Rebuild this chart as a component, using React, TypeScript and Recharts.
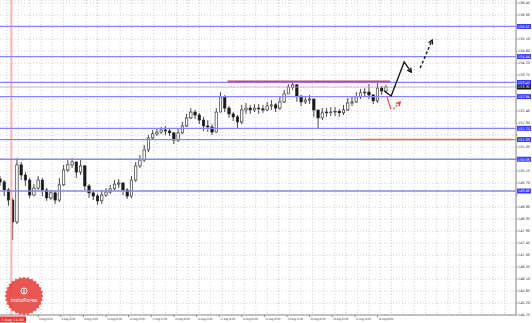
import React from "react";
import {
  ComposedChart,
  Bar,
  Line,
  XAxis,
  YAxis,
  CartesianGrid,
  ReferenceLine,
} from "recharts";

// 3-hour candles (price)
const closes = [
  149.74, 149.44, 149.06, 148.24, 150.38, 150.0, 149.81, 149.25, 149.51, 149.81,
  149.44, 149.14, 149.33, 149.06, 149.63, 150.19, 150.38, 150.49, 150.11, 150.34,
  149.59, 149.33, 149.21, 149.03, 149.25, 149.36, 149.48, 149.66, 149.7, 149.44,
  149.21, 149.81, 150.34, 150.56, 150.94, 151.39, 151.54, 151.61, 151.69, 151.65,
  151.58, 151.31, 151.58, 151.84, 152.14, 152.36, 152.25, 152.06, 151.84, 151.8,
  151.61, 152.36, 152.93, 152.51, 152.29, 152.18, 151.99, 152.44, 152.51, 152.44,
  152.51, 152.48, 152.44, 152.59, 152.63, 152.51, 152.74, 153.04, 153.3, 153.38,
  152.96, 152.74, 152.81, 152.85, 152.44, 152.14, 152.33, 152.36, 152.36, 152.39,
  152.33, 152.44, 152.7, 152.74, 152.93, 153.08, 153.11, 153.0, 152.78, 153.26,
  153.15, 153.3,
];
const highs = [
  149.96, 149.81, 149.51, 149.14, 150.64, 150.49, 150.11, 149.89, 149.66, 149.96,
  149.89, 149.51, 149.44, 149.4, 149.89, 150.38, 150.56, 150.64, 150.49, 150.56,
  150.38, 149.66, 149.44, 149.29, 149.44, 149.51, 149.63, 149.81, 149.85, 149.74,
  149.51, 149.96, 150.49, 150.75, 151.13, 151.5, 151.69, 151.76, 151.8, 151.84,
  151.76, 151.61, 151.76, 151.99, 152.29, 152.51, 152.44, 152.33, 152.18, 152.06,
  151.91, 152.51, 153.11, 153.0, 152.59, 152.36, 152.25, 152.63, 152.7, 152.63,
  152.66, 152.66, 152.63, 152.74, 152.81, 152.7, 152.93, 153.19, 153.41, 153.53,
  153.41, 153.0, 152.96, 153.0, 152.85, 152.44, 152.51, 152.51, 152.55, 152.55,
  152.48, 152.63, 152.89, 152.93, 153.11, 153.23, 153.26, 153.41, 153.04, 153.53,
  153.34, 153.38,
];
const lows = [
  149.59, 149.21, 148.84, 147.56, 148.16, 149.81, 149.59, 149.14, 149.21, 149.44,
  149.21, 149.03, 149.06, 148.91, 148.99, 149.59, 150.11, 150.26, 149.89, 150.0,
  149.44, 149.14, 149.06, 148.88, 148.91, 149.18, 149.29, 149.44, 149.51, 149.25,
  149.1, 149.14, 149.74, 150.26, 150.49, 150.86, 151.31, 151.46, 151.54, 151.5,
  151.46, 151.16, 151.24, 151.54, 151.8, 152.1, 152.1, 151.91, 151.65, 151.61,
  151.5, 151.58, 152.36, 152.36, 152.14, 152.03, 151.76, 151.91, 152.29, 152.29,
  152.36, 152.29, 152.33, 152.4, 152.44, 152.36, 152.44, 152.7, 153.04, 153.19,
  152.74, 152.59, 152.66, 152.66, 152.18, 151.76, 152.06, 152.18, 152.21, 152.21,
  152.18, 152.25, 152.4, 152.59, 152.7, 152.85, 152.96, 152.85, 152.66, 152.7,
  153.0, 153.08,
];
const firstOpen = 149.85;
const hoursPerCandle = 3;

const xTickHours = [27, 43, 59, 75, 91, 107, 123, 139, 155, 171, 187, 203, 219, 235, 251, 267];
const xTickLabels = [
  "8 Aug 06:00", "8 Aug 22:00", "9 Aug 14:00", "12 Aug 06:00", "12 Aug 22:00",
  "13 Aug 14:00", "14 Aug 06:00", "14 Aug 22:00", "15 Aug 14:00", "16 Aug 06:00",
  "16 Aug 22:00", "19 Aug 14:00", "20 Aug 06:00", "20 Aug 22:00", "21 Aug 14:00",
  "22 Aug 06:00",
];
const yTicks = [
  144.75, 145.2, 145.65, 146.1, 146.55, 147.0, 147.45, 147.9, 148.35, 148.8, 149.25,
  149.7, 150.15, 150.6, 151.05, 151.5, 151.95, 152.4, 152.85, 153.3, 153.75, 154.2,
  154.65, 155.1, 155.55, 156.0, 156.45,
];

const blueLevels = [155.57, 154.44, 153.47, 152.94, 151.75, 151.33, 150.59, 149.4];
const lastPrice = 153.3;
const resistance = { from: 161, to: 276, price: 153.51 };
const support = { from: 255, to: 362, price: 151.33 };
const markerHour = 8;
const markerLabel = "7 Aug 11:00";

// hand-drawn forecast arrows (hour, price)
const upMove = [
  { h: 271.8, p: 153.15 },
  { h: 276.7, p: 152.96 },
  { h: 285.9, p: 154.24 },
  { h: 290.9, p: 153.86 },
];
const upMoveNext = [
  { h: 297.2, p: 154.01 },
  { h: 305.7, p: 155.06 },
];
const dipMove = [
  { h: 273.7, p: 152.93 },
  { h: 276.5, p: 152.47 },
];
const dipBounce = [
  { h: 278.3, p: 152.47 },
  { h: 283.1, p: 152.74 },
];

const W = 532;
const H = 323;
const X_MAX = 365;
const Y_MIN = 144.75;
const Y_MAX = 156.5625;
const FONT = "DejaVu Sans";

const candles = closes.map((c, i) => ({
  h: i * hoursPerCandle,
  open: i === 0 ? firstOpen : closes[i - 1],
  close: c,
  high: highs[i],
  low: lows[i],
  range: [lows[i], highs[i]],
}));

const gridHours: number[] = [];
for (let h = 5; h <= X_MAX; h += 8) gridHours.push(h);

const taggedPrices = [...blueLevels, lastPrice];

function Candle(props: any) {
  const { x, y, width, height, payload } = props;
  const top = Math.min(y, y + height);
  const bottom = Math.max(y, y + height);
  const span = payload.high - payload.low || 1;
  const toY = (v: number) => top + ((payload.high - v) / span) * (bottom - top);
  const cx = x + width / 2;
  const bTop = toY(Math.max(payload.open, payload.close));
  const bBot = toY(Math.min(payload.open, payload.close));
  const bull = payload.close >= payload.open;
  return (
    <g>
      <line x1={cx} x2={cx} y1={top} y2={bottom} stroke="#1a1a1a" strokeWidth={0.8} />
      <rect
        x={cx - 1.2}
        y={bTop}
        width={2.4}
        height={Math.max(bBot - bTop, 0.6)}
        fill={bull ? "#ffffff" : "#1a1a1a"}
        stroke="#1a1a1a"
        strokeWidth={0.6}
      />
    </g>
  );
}

function PriceTag(props: any) {
  const { viewBox, value, fill } = props;
  if (!viewBox) return null;
  const x = viewBox.x + viewBox.width + 1;
  const y = viewBox.y;
  return (
    <g>
      <rect x={x} y={y - 2.5} width={14} height={5} fill={fill} />
      <text
        x={x + 0.8}
        y={y + 1.3}
        fontSize={3.6}
        fill="#ffffff"
        fontFamily={FONT}
        textLength={12}
        lengthAdjust="spacingAndGlyphs"
      >
        {value.toFixed(2)}
      </text>
    </g>
  );
}

function MarkerTag(props: any) {
  const { viewBox } = props;
  if (!viewBox) return null;
  return (
    <g>
      <rect x={0} y={316.5} width={26} height={6} fill="#ff2f2f" />
      <text
        x={1}
        y={320.8}
        fontSize={3.6}
        fill="#ffffff"
        fontFamily={FONT}
        textLength={23}
        lengthAdjust="spacingAndGlyphs"
      >
        {markerLabel}
      </text>
    </g>
  );
}

function XTick(props: any) {
  const { x, y, payload } = props;
  const idx = xTickHours.indexOf(payload.value);
  if (idx < 0) return null;
  const label = xTickLabels[idx];
  return (
    <text
      x={x + 1}
      y={y + 3}
      fontSize={3.2}
      fill="#333"
      fontFamily={FONT}
      textLength={label.length > 11 ? 15 : 13.5}
      lengthAdjust="spacingAndGlyphs"
    >
      {label}
    </text>
  );
}

function YTick(props: any) {
  const { x, y, payload } = props;
  const v = Number(payload.value);
  // labels sitting under a price tag are hidden, as on the terminal
  if (taggedPrices.some((t) => Math.abs(t - v) < 0.17)) return null;
  return (
    <text
      x={x}
      y={y + 1.3}
      fontSize={3.6}
      fill="#333"
      fontFamily={FONT}
      textLength={12}
      lengthAdjust="spacingAndGlyphs"
    >
      {v.toFixed(2)}
    </text>
  );
}

function arrowDot(color: string, store: { x: number; y: number }[], last: number) {
  return (props: any) => {
    const { cx, cy, index } = props;
    store[index] = { x: cx, y: cy };
    if (index !== last || !store[index - 1]) return <g key={`d${index}`} />;
    const prev = store[index - 1];
    const a = Math.atan2(cy - prev.y, cx - prev.x);
    const len = 4.5;
    const p1 = { x: cx - len * Math.cos(a - 0.5), y: cy - len * Math.sin(a - 0.5) };
    const p2 = { x: cx - len * Math.cos(a + 0.5), y: cy - len * Math.sin(a + 0.5) };
    return (
      <path
        key={`d${index}`}
        d={`M${p1.x},${p1.y} L${cx},${cy} L${p2.x},${p2.y}`}
        fill="none"
        stroke={color}
        strokeWidth={1.3}
      />
    );
  };
}

function Seal() {
  const pts: string[] = [];
  const teeth = 28;
  for (let i = 0; i < teeth * 2; i++) {
    const r = i % 2 === 0 ? 19.5 : 17.5;
    const a = (Math.PI * i) / teeth;
    pts.push(`${24 + r * Math.cos(a)},${296 + r * Math.sin(a)}`);
  }
  return (
    <svg
      width={W}
      height={H}
      style={{ position: "absolute", left: 0, top: 0, pointerEvents: "none" }}
    >
      <g opacity={0.88}>
        <polygon points={pts.join(" ")} fill="#e8403c" />
        <circle cx={24} cy={291} r={3} fill="none" stroke="#ffffff" strokeWidth={1} />
        <line x1={24} x2={24} y1={289} y2={293.5} stroke="#ffffff" strokeWidth={1} />
        <text
          x={24}
          y={301.5}
          fontSize={5.2}
          fill="#ffffff"
          textAnchor="middle"
          fontFamily={FONT}
        >
          InstaForex
        </text>
      </g>
    </svg>
  );
}

export default function App() {
  const s1: { x: number; y: number }[] = [];
  const s2: { x: number; y: number }[] = [];
  const s3: { x: number; y: number }[] = [];
  return (
    <div style={{ position: "absolute", left: 0, top: 0, width: W, height: H, background: "#fff" }}>
      <ComposedChart
        width={W}
        height={H}
        data={candles}
        margin={{ top: 0, right: 0, bottom: 0, left: 0 }}
      >
        <CartesianGrid stroke="#cfcfcf" strokeDasharray="1 2" verticalValues={gridHours} />
        <XAxis
          dataKey="h"
          type="number"
          domain={[0, X_MAX]}
          allowDataOverflow
          ticks={xTickHours}
          height={8}
          stroke="#8a8a8a"
          tickSize={2}
          tickMargin={0}
          tick={<XTick />}
          interval={0}
        />
        <YAxis
          orientation="right"
          type="number"
          domain={[Y_MIN, Y_MAX]}
          allowDataOverflow
          ticks={yTicks}
          width={16}
          stroke="#8a8a8a"
          tickSize={1.5}
          tickMargin={0.5}
          tick={<YTick />}
          interval={0}
        />
        <ReferenceLine x={markerHour} stroke="#ffb4b4" strokeWidth={2} label={<MarkerTag />} />
        <ReferenceLine
          y={lastPrice}
          stroke="#b5b5b5"
          strokeWidth={0.8}
          label={<PriceTag value={lastPrice} fill="#111111" />}
        />
        {blueLevels.map((v) => (
          <ReferenceLine
            key={v}
            y={v}
            stroke="#8585ff"
            strokeWidth={1.3}
            label={<PriceTag value={v} fill="#3a3aff" />}
          />
        ))}
        <ReferenceLine
          segment={[
            { x: resistance.from, y: resistance.price },
            { x: resistance.to, y: resistance.price },
          ]}
          stroke="#d2406c"
          strokeWidth={1.6}
        />
        <ReferenceLine
          segment={[
            { x: support.from, y: support.price },
            { x: support.to, y: support.price },
          ]}
          stroke="#ff5f5f"
          strokeWidth={1.6}
        />
        <Bar dataKey="range" barSize={3} shape={<Candle />} isAnimationActive={false} />
        <Line
          data={upMove}
          dataKey="p"
          stroke="#111"
          strokeWidth={1.3}
          dot={arrowDot("#111", s1, upMove.length - 1)}
          activeDot={false}
          isAnimationActive={false}
        />
        <Line
          data={upMoveNext}
          dataKey="p"
          stroke="#111"
          strokeWidth={1.3}
          strokeDasharray="3 2"
          dot={arrowDot("#111", s2, upMoveNext.length - 1)}
          activeDot={false}
          isAnimationActive={false}
        />
        <Line
          data={dipMove}
          dataKey="p"
          stroke="#ff3b3b"
          strokeWidth={1.2}
          dot={false}
          activeDot={false}
          isAnimationActive={false}
        />
        <Line
          data={dipBounce}
          dataKey="p"
          stroke="#ff3b3b"
          strokeWidth={1.2}
          strokeDasharray="2 1.5"
          dot={arrowDot("#ff3b3b", s3, dipBounce.length - 1)}
          activeDot={false}
          isAnimationActive={false}
        />
      </ComposedChart>
      <Seal />
    </div>
  );
}
